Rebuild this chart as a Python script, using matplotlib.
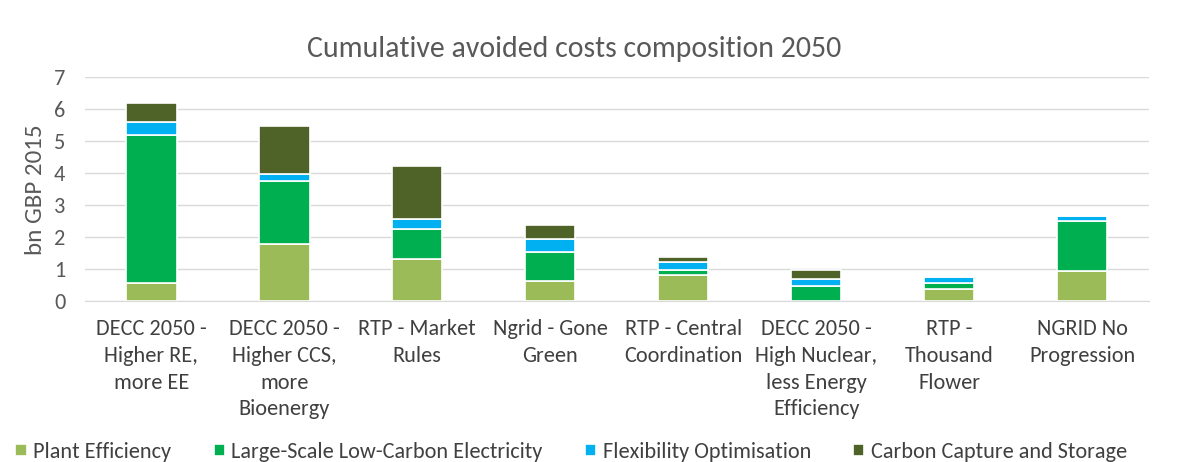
import matplotlib.pyplot as plt
import numpy as np

plt.rcParams['font.family'] = ['Carlito', 'Liberation Sans', 'DejaVu Sans']

categories = ['DECC 2050 -\nHigher RE,\nmore EE',
              'DECC 2050 -\nHigher CCS,\nmore\nBioenergy',
              'RTP - Market\nRules',
              'Ngrid - Gone\nGreen',
              'RTP - Central\nCoordination',
              'DECC 2050 -\nHigh Nuclear,\nless Energy\nEfficiency',
              'RTP -\nThousand\nFlower',
              'NGRID No\nProgression']

plant_eff = [0.58, 1.80, 1.31, 0.64, 0.81, 0.00, 0.39, 0.94]
large_scale = [4.61, 1.95, 0.95, 0.89, 0.17, 0.47, 0.18, 1.58]
flexibility = [0.40, 0.23, 0.31, 0.42, 0.23, 0.23, 0.18, 0.15]
ccs = [0.59, 1.48, 1.64, 0.44, 0.18, 0.27, 0.00, 0.00]

series = [('Plant Efficiency', plant_eff, '#9bbb59'),
          ('Large-Scale Low-Carbon Electricity', large_scale, '#00b050'),
          ('Flexibility Optimisation', flexibility, '#00b0f0'),
          ('Carbon Capture and Storage', ccs, '#4f6228')]

fig = plt.figure(figsize=(11.78, 4.62), dpi=100)
ax = fig.add_axes([0.072, 0.348, 0.903, 0.485])

x = np.arange(len(categories))
bottom = np.zeros(len(categories))
for name, vals, col in series:
    ax.bar(x, vals, 0.38, bottom=bottom, color=col, edgecolor='white',
           linewidth=1.2, label=name, zorder=3)
    bottom += np.array(vals)

ax.set_xlim(-0.5, len(categories) - 0.5)
ax.set_ylim(0, 7)
ax.set_yticks(range(8))
ax.grid(axis='y', color='#d9d9d9', linewidth=1, zorder=0)
for s in ['top', 'right', 'left']:
    ax.spines[s].set_visible(False)
ax.spines['bottom'].set_color('#d9d9d9')
ax.tick_params(axis='both', length=0, colors='#595959')
ax.tick_params(axis='y', labelsize=16, pad=14)
ax.set_xticks(x)
ax.set_xticklabels(categories, fontsize=16, color='#404040', linespacing=1.42)
ax.tick_params(axis='x', pad=13)
ax.set_ylabel('bn GBP 2015', fontsize=18, color='#595959', labelpad=6)

fig.text(0.487, 0.895, 'Cumulative avoided costs composition 2050',
         fontsize=21.5, color='#595959', ha='center', va='center')

fig.legend(loc='center', bbox_to_anchor=(0.485, 0.022), ncol=4, frameon=False,
           fontsize=16, handlelength=0.5, handleheight=0.5, handletextpad=0.3,
           columnspacing=1.9, labelcolor='#404040')

fig.savefig('out.png', dpi=100)
